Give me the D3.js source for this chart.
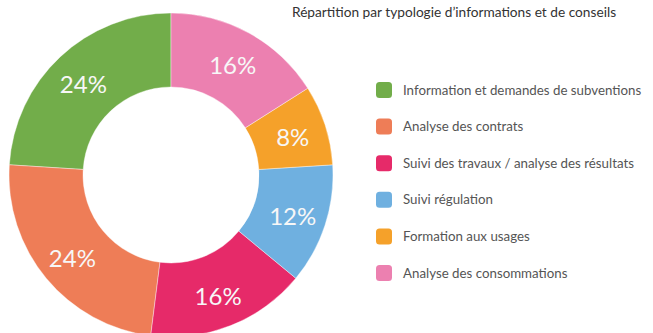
<!DOCTYPE html>
<html lang="fr">
<head>
<meta charset="utf-8">
<script src="https://cdn.jsdelivr.net/npm/d3@7"></script>
<style>
  html, body { margin: 0; padding: 0; background: #fff; }
  svg { display: block; }
</style>
</head>
<body>
<svg id="chart" width="653" height="333"></svg>
<script>
// Parts of advice and information requests, by type
const categories = [
  "Information et demandes de subventions",
  "Analyse des contrats",
  "Suivi des travaux / analyse des résultats",
  "Suivi régulation",
  "Formation aux usages",
  "Analyse des consommations"
];
const shares = [24, 24, 16, 12, 8, 16];
const colors = ["#72ad4a", "#ee7d57", "#e62a69", "#6fb0e0", "#f5a12a", "#ec80b0"];
const title = "Répartition par typologie d’informations et de conseils";

const svg = d3.select("#chart");
const cx = 171, cy = 175, outerR = 162, innerR = 88, labelR = 128;

// Slices run anticlockwise from 12 o'clock, in legend order
const pie = d3.pie().sort(null).value(d => d.v).startAngle(0).endAngle(-2 * Math.PI);
const rows = categories.map((c, i) => ({ c, v: shares[i], color: colors[i] }));
const arcs = pie(rows);

const arc = d3.arc().innerRadius(innerR).outerRadius(outerR);
const labelArc = d3.arc().innerRadius(labelR).outerRadius(labelR);

const ring = svg.append("g").attr("transform", `translate(${cx},${cy})`);
ring.selectAll("path")
  .data(arcs)
  .join("path")
  .attr("d", arc)
  .attr("fill", d => d.data.color)
  .attr("stroke", "#fff")
  .attr("stroke-width", 0.4);

ring.selectAll("text")
  .data(arcs)
  .join("text")
  .attr("transform", d => `translate(${labelArc.centroid(d)})`)
  .attr("text-anchor", "middle")
  .attr("dy", "0.45em")
  .attr("fill", "#f7f7f7")
  .style("font-family", "Lato, 'Open Sans', sans-serif")
  .style("font-size", "24px")
  .text(d => d.data.v + "%");

// Title
svg.append("text")
  .attr("x", 292)
  .attr("y", 17)
  .attr("fill", "#333")
  .style("font-family", "Lato, 'Open Sans', sans-serif")
  .style("font-size", "13.7px")
  .text(title);

// Legend
const legendY = d3.scalePoint().domain(categories).range([90, 273]);
const legend = svg.append("g");
const item = legend.selectAll("g")
  .data(rows)
  .join("g")
  .attr("transform", d => `translate(376,${legendY(d.c)})`);
item.append("rect")
  .attr("x", 0).attr("y", -8)
  .attr("width", 16).attr("height", 16)
  .attr("rx", 3.5)
  .attr("fill", d => d.color);
item.append("text")
  .attr("x", 27)
  .attr("dy", "0.35em")
  .attr("fill", "#555")
  .style("font-family", "Lato, 'Open Sans', sans-serif")
  .style("font-size", "13.3px")
  .text(d => d.c);
</script>
</body>
</html>
